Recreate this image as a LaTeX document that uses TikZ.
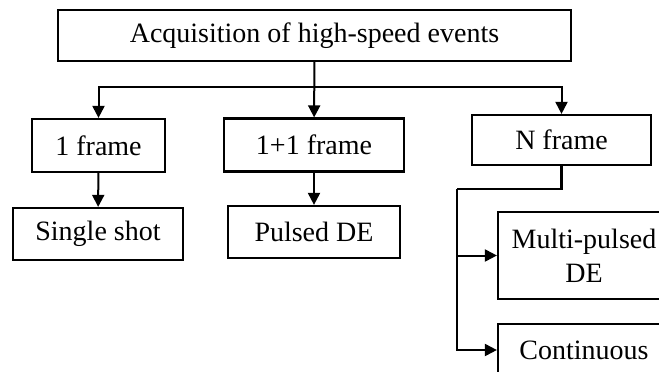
\documentclass[tikz,border=0pt]{standalone}
\usepackage{fontspec}
\setmainfont{Liberation Serif}
\usetikzlibrary{arrows.meta}

\begin{document}
\begin{tikzpicture}[x=1pt,y=-1pt,>={Triangle[length=12pt,width=12pt]},
  line width=2pt,box node/.style={rectangle,draw,inner sep=0pt,line width=2.2pt,
  align=center,minimum height=52pt,font=\fontsize{28}{34}\selectfont}]

  \useasboundingbox (0,0) rectangle (659,372);
  \clip (0,0) rectangle (659,372);

  \node[box node,minimum width=513pt,minimum height=51pt] (top) at (314.5,35.5) {Acquisition of high-speed events};
  \node[box node,minimum width=133pt,minimum height=53pt] (one) at (98.5,145.5) {1 frame};
  \node[box node,minimum width=180pt,minimum height=53pt] (pp) at (314,145) {1+1 frame};
  \node[box node,minimum width=179pt,minimum height=50pt] (nf) at (561.5,140) {N frame};
  \node[box node,minimum width=170pt] (single) at (98,234) {Single shot};
  \node[box node,minimum width=172pt] (pulsed) at (314,232) {Pulsed DE};
  \node[box node,minimum width=172pt,minimum height=87pt] (multi) at (584,255.5) {Multi-pulsed\\DE};
  \node[box node,minimum width=172pt] (cont) at (584,350) {Continuous};

  \coordinate (split) at (314,87);
  \coordinate (njoin) at (457,189);

  \draw[->] (top) -- (pp);
  \draw[->] (split) -| (one);
  \draw[->] (split) -| (nf);
  \draw[->] (one) -- (single);
  \draw[->] (pp) -- (pulsed);
  \draw[line width=2.6pt] (nf.south) -- (nf.south |- njoin) -- (njoin);
  \draw[->] (njoin) |- (multi);
  \draw[->] (njoin) |- (cont);
\end{tikzpicture}
\end{document}
